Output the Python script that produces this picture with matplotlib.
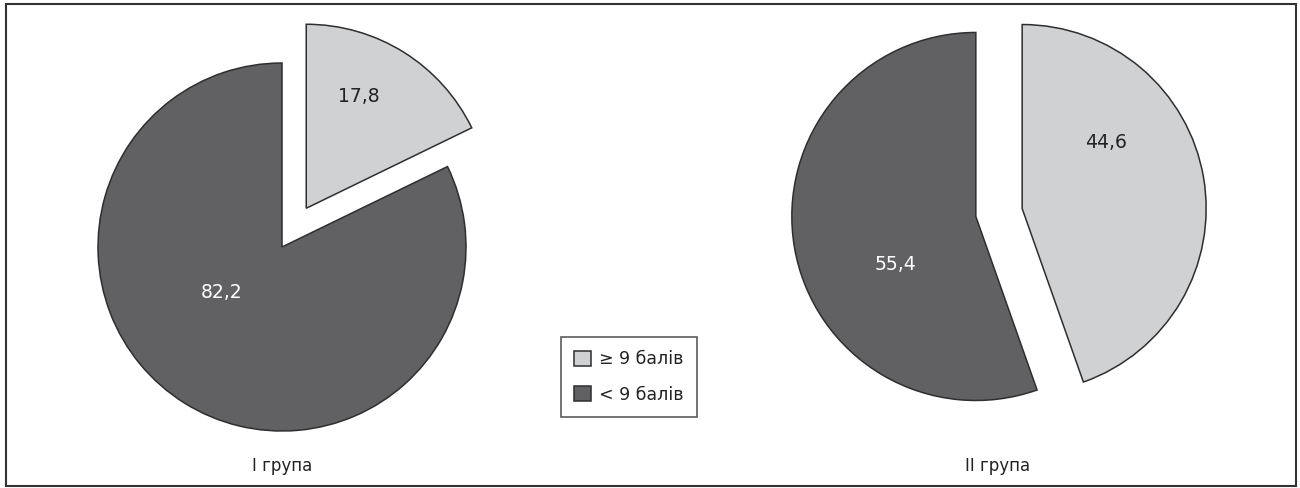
import matplotlib.pyplot as plt
from matplotlib.patches import Rectangle

plt.rcParams['font.family'] = ['DejaVu Sans']

# shares of patients by score, %
categories = ['≥ 9 балів', '< 9 балів']
group1 = [17.8, 82.2]
group2 = [44.6, 55.4]
group_names = ['І група', 'ІІ група']

light = '#d0d1d3'
dark = '#616163'
edge = '#2e2e2e'

fig = plt.figure(figsize=(13, 4.88), dpi=100)
ax = fig.add_axes([0, 0, 1, 1])

r = 184
w1, _ = ax.pie(group1, colors=[light, dark], startangle=90, counterclock=False,
               radius=r, center=(282, 241), explode=[45.7, 0],
               wedgeprops=dict(edgecolor=edge, linewidth=1.1))
w2, _ = ax.pie(group2, colors=[light, dark], startangle=90, counterclock=False,
               radius=r, center=(999, 275.5), explode=[23.5, 23.5],
               wedgeprops=dict(edgecolor=edge, linewidth=1.1))

ax.set_xlim(0, 1300)
ax.set_ylim(0, 488)
ax.set_aspect('equal')
ax.axis('off')

def fmt(v):
    return f'{v:.1f}'.replace('.', ',')

# value labels
label_pos1 = [(359, 391), (222, 195)]
label_pos2 = [(1106, 346), (895, 224)]
for vals, pos in [(group1, label_pos1), (group2, label_pos2)]:
    for v, (x, y), c in zip(vals, pos, ['#222222', 'white']):
        ax.text(x, y, fmt(v), ha='center', va='center', fontsize=13.5, color=c)

ax.text(282, 22, group_names[0], ha='center', va='center', fontsize=12, color='#222222')
ax.text(998, 22, group_names[1], ha='center', va='center', fontsize=12, color='#222222')

leg = fig.legend(w1, categories, loc='upper left', bbox_to_anchor=(561 / 1300, 1 - 337 / 488),
                 borderaxespad=0, fontsize=12.5, frameon=True, fancybox=False,
                 handlelength=0.95, handleheight=0.95, handletextpad=0.5,
                 labelspacing=1.03, borderpad=0.75, labelcolor='#222222')
leg.get_frame().set_edgecolor('#333333')
leg.get_frame().set_linewidth(1.2)

# outer frame
ax.add_patch(Rectangle((6, 2), 1290, 482, fill=False, edgecolor='#333333',
                       linewidth=1.5, clip_on=False))

fig.savefig('out.png', dpi=100)
